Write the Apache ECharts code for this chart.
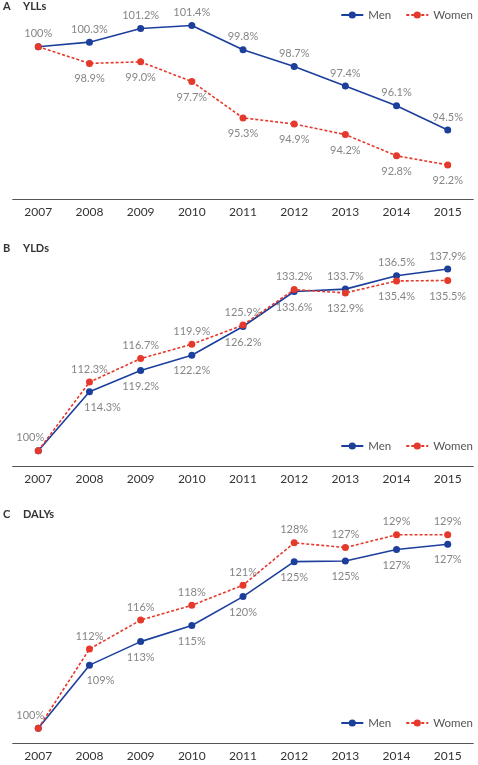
<!DOCTYPE html>
<html>
<head>
<meta charset="utf-8">
<script src="https://cdn.jsdelivr.net/npm/echarts@6/dist/echarts.min.js"></script>
<style>
html, body { margin: 0; padding: 0; background: #fff; }
#chartmain { width: 478px; height: 765px; }
</style>
</head>
<body>
<div id="chartmain"></div>
<script>
// data
var years = ['2007', '2008', '2009', '2010', '2011', '2012', '2013', '2014', '2015'];
var yllMen = [100, 100.3, 101.2, 101.4, 99.8, 98.7, 97.4, 96.1, 94.5];
var yllWomen = [100, 98.9, 99.0, 97.7, 95.3, 94.9, 94.2, 92.8, 92.2];
var yldMen = [100, 112.3, 116.7, 119.9, 125.9, 133.2, 133.7, 136.5, 137.9];
var yldWomen = [100, 114.3, 119.2, 122.2, 126.2, 133.6, 132.9, 135.4, 135.5];
var dalyMen = [100, 109.4, 112.9, 115.3, 119.6, 124.8, 124.9, 126.6, 127.4];
var dalyWomen = [100, 111.8, 116.1, 118.3, 121.3, 127.6, 126.9, 128.8, 128.8];

var BLUE = '#1c3f9c';
var RED = '#e5392c';
var FONT = 'Lato';

function fmt1(v) { return v === 100 ? '100%' : v.toFixed(1) + '%'; }
function fmt0(v) { return Math.round(v) + '%'; }

var panels = [
    {letter: 'A', name: 'YLLs', men: yllMen, women: yllWomen, topIsMen: true, fmt: fmt1, firstShift: 0, secondShift: 0,
        top: 16.4, height: 182.9, min: 89.93, max: 102, titleTop: 1, legendTop: 9},
    {letter: 'B', name: 'YLDs', men: yldMen, women: yldWomen, topIsMen: true, fmt: fmt1, firstShift: -8, secondShift: 13,
        top: 258.9, height: 207.1, min: 96.8, max: 140, titleTop: 243, legendTop: 440},
    {letter: 'C', name: 'DALYs', men: dalyMen, women: dalyWomen, topIsMen: false, fmt: fmt0, firstShift: -8, secondShift: 11,
        top: 526.7, height: 216.6, min: 97.77, max: 130, titleTop: 509, legendTop: 717}
];

var grid = [], xAxis = [], yAxis = [], series = [], title = [], legend = [];

panels.forEach(function (p, i) {
    grid.push({left: 12.7, right: 4.7, top: p.top, height: p.height});
    xAxis.push({
        type: 'category', gridIndex: i, data: years,
        axisLine: {lineStyle: {color: '#555', width: 1}},
        axisTick: {alignWithLabel: true, length: 3, lineStyle: {color: '#555'}},
        axisLabel: {color: '#333', fontSize: 12, fontFamily: FONT, margin: 7}
    });
    yAxis.push({type: 'value', gridIndex: i, min: p.min, max: p.max, show: false, splitLine: {show: false}});
    title.push({text: p.letter, left: 3, top: p.titleTop, padding: 0,
        textStyle: {fontSize: 11, fontWeight: 'bold', color: '#333', fontFamily: FONT}});
    title.push({text: p.name, left: 23, top: p.titleTop, padding: 0,
        textStyle: {fontSize: 11, fontWeight: 'bold', color: '#333', fontFamily: FONT}});
    legend.push({
        data: ['Men', 'Women'], right: 5, top: p.legendTop, padding: 0,
        itemWidth: 22, itemHeight: 9, itemGap: 14,
        textStyle: {fontSize: 11.5, color: '#555', fontFamily: FONT}
    });

    series.push({
        name: 'Men', type: 'line', xAxisIndex: i, yAxisIndex: i, data: p.men,
        symbol: 'circle', symbolSize: 7, color: BLUE,
        lineStyle: {color: BLUE, width: 1.6}, itemStyle: {color: BLUE}, z: 3
    });
    series.push({
        name: 'Women', type: 'line', xAxisIndex: i, yAxisIndex: i, data: p.women,
        symbol: 'circle', symbolSize: 7, color: RED,
        lineStyle: {color: RED, width: 1.6, type: [3, 2]}, itemStyle: {color: RED}, z: 4
    });

    // labels anchored above the higher point and below the lower point
    var topText = p.topIsMen ? p.men : p.women;
    var botText = p.topIsMen ? p.women : p.men;
    var hi = [], lo = [];
    for (var k = 0; k < years.length; k++) {
        var h = {value: Math.max(p.men[k], p.women[k])};
        var l = {value: Math.min(p.men[k], p.women[k])};
        if (k === 0) h.label = {offset: [p.firstShift, 0]};
        if (k === 1) l.label = {offset: [p.secondShift, 0]};
        hi.push(h);
        lo.push(l);
    }
    series.push({
        type: 'scatter', xAxisIndex: i, yAxisIndex: i, data: hi, silent: true,
        symbolSize: 1, itemStyle: {color: 'transparent'}, z: 5,
        label: {show: true, position: 'top', distance: 7, fontSize: 11, color: '#666', fontFamily: FONT,
            formatter: (function (arr, f) { return function (d) { return f(arr[d.dataIndex]); }; })(topText, p.fmt)}
    });
    series.push({
        type: 'scatter', xAxisIndex: i, yAxisIndex: i, data: lo, silent: true,
        symbolSize: 1, itemStyle: {color: 'transparent'}, z: 5,
        label: {show: true, position: 'bottom', distance: 9.5, fontSize: 11, color: '#666', fontFamily: FONT,
            formatter: (function (arr, f) { return function (d) { return d.dataIndex === 0 ? '' : f(arr[d.dataIndex]); }; })(botText, p.fmt)}
    });
});

var myChart = echarts.init(document.getElementById('chartmain'));
myChart.setOption({
    backgroundColor: '#fff',
    animation: false,
    title: title,
    legend: legend,
    grid: grid,
    xAxis: xAxis,
    yAxis: yAxis,
    series: series
});
</script>
</body>
</html>
